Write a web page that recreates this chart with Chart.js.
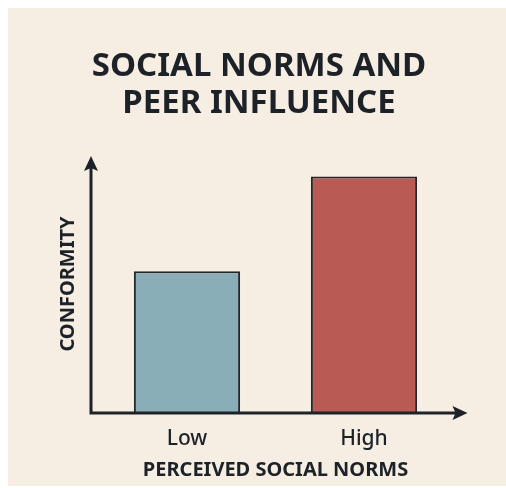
<!DOCTYPE html>
<html>
<head>
<meta charset="utf-8">
<script src="https://cdn.jsdelivr.net/npm/chart.js@4"></script>
<style>
  html, body { margin: 0; padding: 0; background: #ffffff; }
  canvas { display: block; }
</style>
</head>
<body>
<canvas id="barChart" width="506" height="488"></canvas>
<script>
// Chart data
const titleLines = ["SOCIAL NORMS AND", "PEER INFLUENCE"];
const categories = ["Low", "High"];
const conformity = [55, 92];
const barColors = ["#8aaeb8", "#b95a54"];
const yLabel = "CONFORMITY";
const xLabel = "PERCEIVED SOCIAL NORMS";

const INK = "#1c2227";
const FONT = "'Noto Sans', 'DejaVu Sans', sans-serif";

/**
 * Beige panel behind the chart
 */
const panelBackground = {
  id: "panelBackground",
  beforeDraw(chart) {
    const { ctx, width, height } = chart;
    ctx.save();
    ctx.fillStyle = "#ffffff";
    ctx.fillRect(0, 0, width, height);
    ctx.fillStyle = "#f6eee3";
    ctx.fillRect(8, 8, width - 8, height - 10);
    ctx.restore();
  },
};

/**
 * Axis lines with arrow heads
 */
const arrowAxes = {
  id: "arrowAxes",
  afterDatasetsDraw(chart) {
    const { ctx, chartArea } = chart;
    const x0 = chartArea.left - 7.5;
    const y0 = chartArea.bottom + 1;
    const yTip = chartArea.top;
    const xTip = chartArea.right + 15;

    ctx.save();
    ctx.strokeStyle = INK;
    ctx.fillStyle = INK;
    ctx.lineWidth = 3;
    ctx.beginPath();
    ctx.moveTo(x0, y0);
    ctx.lineTo(x0, yTip + 10);
    ctx.moveTo(x0 - 1.5, y0);
    ctx.lineTo(xTip - 10, y0);
    ctx.stroke();

    // arrow heads
    ctx.beginPath();
    ctx.moveTo(x0, yTip);
    ctx.lineTo(x0 - 7, yTip + 15);
    ctx.lineTo(x0, yTip + 12);
    ctx.lineTo(x0 + 7, yTip + 15);
    ctx.closePath();
    ctx.fill();

    ctx.beginPath();
    ctx.moveTo(xTip, y0);
    ctx.lineTo(xTip - 15, y0 - 7);
    ctx.lineTo(xTip - 12, y0);
    ctx.lineTo(xTip - 15, y0 + 7);
    ctx.closePath();
    ctx.fill();
    ctx.restore();
  },
};

new Chart(document.getElementById("barChart"), {
  type: "bar",
  data: {
    labels: categories,
    datasets: [
      {
        data: conformity,
        backgroundColor: barColors,
        borderColor: "#22272b",
        borderWidth: 2,
        categoryPercentage: 1,
        barPercentage: 0.6,
      },
    ],
  },
  options: {
    responsive: false,
    animation: false,
    layout: {
      padding: { left: 20, right: 8, top: 8, bottom: 4 },
    },
    plugins: {
      legend: { display: false },
      tooltip: { enabled: false },
      title: {
        display: true,
        text: titleLines,
        color: INK,
        font: { family: FONT, size: 33, weight: "bold", lineHeight: 37 / 33 },
        padding: { top: 40.5, bottom: 33.5 },
      },
    },
    scales: {
      x: {
        grid: { display: false, drawTicks: false },
        border: { display: false },
        ticks: {
          color: INK,
          padding: 15,
          font: { family: FONT, size: 21, weight: "500", lineHeight: 24 / 21 },
        },
        title: {
          display: true,
          text: xLabel,
          color: INK,
          padding: { top: -8, bottom: 2 },
          font: { family: FONT, size: 20, weight: "bold", lineHeight: 1.2 },
        },
      },
      y: {
        min: 0,
        max: 100,
        grid: { display: false, drawTicks: false },
        border: { display: false },
        ticks: { display: false },
        title: {
          display: true,
          text: yLabel,
          color: INK,
          padding: { top: 36, bottom: 18.5 },
          font: { family: FONT, size: 20, weight: "bold", lineHeight: 1.2 },
        },
      },
      // empty right axis keeps room for the x arrow and centres the title
      y2: {
        type: "linear",
        position: "right",
        grid: { display: false, drawTicks: false },
        border: { display: false },
        ticks: { display: false },
        title: {
          display: true,
          text: "",
          padding: { top: 0, bottom: 35.5 },
          font: { size: 10, lineHeight: 1 },
        },
      },
    },
  },
  plugins: [panelBackground, arrowAxes],
});
</script>
</body>
</html>
